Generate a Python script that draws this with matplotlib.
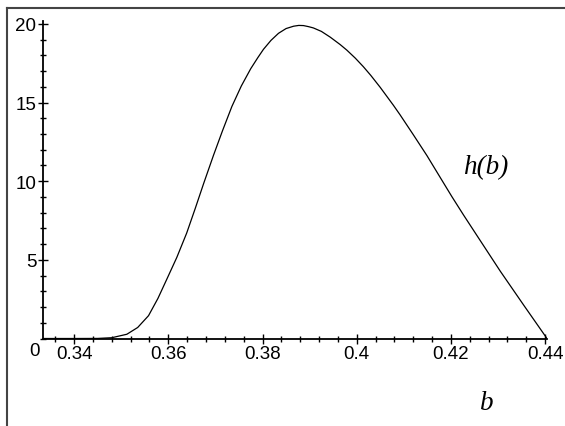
import matplotlib
matplotlib.use("Agg")
import matplotlib.pyplot as plt
from matplotlib.ticker import MultipleLocator, FixedLocator
from matplotlib.lines import Line2D

b_vals = [0.33333, 0.3400, 0.3450, 0.3480, 0.3512, 0.3535, 0.3558, 0.3578, 0.3597,
          0.3618, 0.3639, 0.3657, 0.3675, 0.3696, 0.3715, 0.3735, 0.3755,
          0.3775, 0.3790, 0.3802, 0.3818, 0.3834, 0.3850, 0.3866, 0.3877, 0.3887,
          0.3898, 0.3908, 0.3925, 0.3944, 0.3965, 0.3979, 0.3997, 0.4014, 0.4030,
          0.4050, 0.4078, 0.4092, 0.4120, 0.4149, 0.4177, 0.4202, 0.4227, 0.4258,
          0.4305, 0.4355, 0.4404]
h_vals = [0.0, 0.0, 0.005, 0.05, 0.27, 0.70, 1.45, 2.55, 3.78,
          5.15, 6.70, 8.25, 9.85, 11.65, 13.20, 14.75, 16.05,
          17.15, 17.85, 18.38, 18.95, 19.40, 19.70, 19.85, 19.90, 19.89,
          19.82, 19.74, 19.52, 19.15, 18.68, 18.33, 17.82, 17.28, 16.72,
          15.96, 14.82, 14.22, 12.96, 11.63, 10.25, 9.02, 7.84, 6.42,
          4.27, 2.10, 0.0]

x_major = [0.34, 0.36, 0.38, 0.40, 0.42, 0.44]
x_labels = ["0.34", "0.36", "0.38", "0.4", "0.42", "0.44"]
y_major = [5, 10, 15, 20]
y_labels = ["5", "10", "15", "20"]

W, H = 565, 427
fig = plt.figure(figsize=(W / 100, H / 100), dpi=100)
left, right = 42.7, 547.0
bottom, top = 339.5, 21.7
ax = fig.add_axes([left / W, (H - bottom) / H, (right - left) / W, (bottom - top) / H])

ax.plot(b_vals, h_vals, color="black", lw=0.9)
ax.set_xlim(1 / 3, 0.4404)
ax.set_ylim(0, 20.2)

for s in ["top", "right"]:
    ax.spines[s].set_visible(False)
for s in ["left", "bottom"]:
    ax.spines[s].set_linewidth(1.3)

ax.xaxis.set_major_locator(FixedLocator(x_major))
ax.set_xticklabels(x_labels)
ax.xaxis.set_minor_locator(MultipleLocator(0.004))
ax.yaxis.set_major_locator(FixedLocator(y_major))
ax.set_yticklabels(y_labels)
ax.yaxis.set_minor_locator(MultipleLocator(1))

ax.tick_params(which="major", direction="inout", length=7, width=1.0,
               labelsize=13.5, pad=1)
ax.tick_params(which="minor", direction="inout", length=4, width=1.0)
for lab in ax.get_xticklabels() + ax.get_yticklabels():
    lab.set_fontfamily("Liberation Sans")

ax.text(-0.006, -0.01, "0", transform=ax.transAxes, ha="right", va="top",
        fontsize=13.5, family="Liberation Sans")

fig.text(485.5 / W, (H - 168) / H, "h(b)", ha="center", va="center",
         fontsize=19.5, family="Liberation Serif", style="italic")
fig.text(487 / W, (H - 404) / H, "b", ha="center", va="center",
         fontsize=19.5, family="Liberation Serif", style="italic")

# outer frame (top and left edges visible)
fig.add_artist(Line2D([7 / W, 1.0], [(H - 9) / H, (H - 9) / H],
                      transform=fig.transFigure, color="#444444", lw=1.5))
fig.add_artist(Line2D([7 / W, 7 / W], [(H - 9) / H, 0.0],
                      transform=fig.transFigure, color="#444444", lw=1.5))

fig.savefig("out.png", dpi=100)
